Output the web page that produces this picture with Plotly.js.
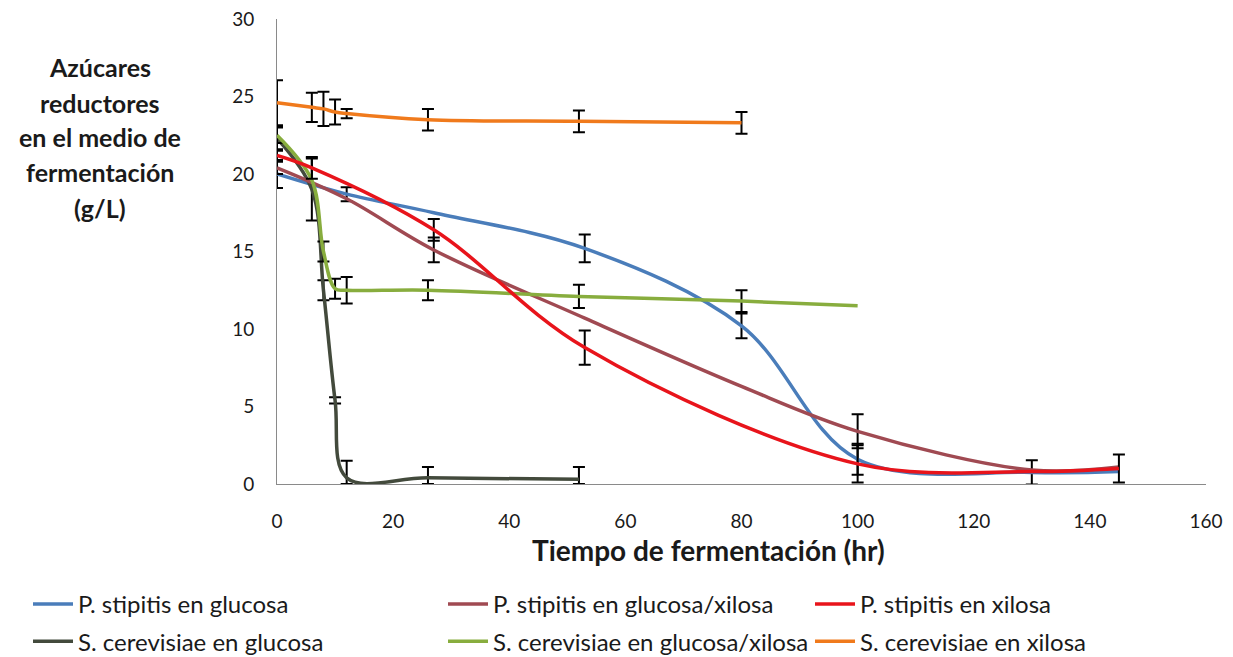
<!DOCTYPE html>
<html>
<head>
<meta charset="utf-8">
<script src="https://cdn.plot.ly/plotly-3.0.1.min.js"></script>
<style>html,body{margin:0;padding:0;background:#fff;}#chart{width:1233px;height:657px;}</style>
</head>
<body>
<div id="chart"></div>
<script>
// ---- Data ----
var seriesNames = [
  "P. stipitis en glucosa",
  "S. cerevisiae en glucosa",
  "P. stipitis en glucosa/xilosa",
  "S. cerevisiae en glucosa/xilosa",
  "P. stipitis en xilosa",
  "S. cerevisiae en xilosa"
];

var psGluX   = [0, 12, 27, 53, 80, 100, 130, 145];
var psGluY   = [20.0, 18.7, 17.5, 15.2, 10.2, 1.6, 0.75, 0.8];
var psGluErr = [0.9, 0.45, NaN, 0.9, 0.8, 1.0, 0.78, NaN];

var scGluX   = [0, 6, 8, 10, 12, 26, 52];
var scGluY   = [22.3, 19.0, 12.5, 5.4, 0.4, 0.4, 0.3];
var scGluErr = [0.8, 2.0, 0.65, 0.2, 1.1, 0.7, 0.8];
var scGluErrMinus = [0.8, 2.0, 0.65, 0.2, 0.4, 0.4, 0.3];

var psMixX   = [0, 12, 27, 53, 80, 100, 130, 145];
var psMixY   = [20.4, 18.4, 15.1, 10.7, 6.3, 3.4, 0.9, 1.1];
var psMixErr = [0.4, NaN, 0.8, NaN, NaN, 1.1, NaN, NaN];

var scMixX   = [0, 6, 8, 10, 12, 26, 52, 80, 100];
var scMixY   = [22.5, 19.6, 15.0, 12.6, 12.5, 12.5, 12.1, 11.8, 11.5];
var scMixErr = [0.5, NaN, 0.65, 0.65, 0.85, 0.65, 0.75, 0.7, NaN];

var psXilX   = [0, 6, 27, 53, 100, 130, 145];
var psXilY   = [21.2, 20.4, 16.4, 8.8, 1.3, 0.8, 1.0];
var psXilErr = [0.4, 0.7, 0.7, 1.1, 1.2, NaN, 0.9];

var scXilX   = [0, 6, 8, 10, 12, 26, 52, 80];
var scXilY   = [24.6, 24.3, 24.2, 24.0, 23.9, 23.5, 23.4, 23.3];
var scXilErr = [1.45, 0.95, 1.1, 0.8, 0.3, 0.7, 0.7, 0.7];

var xTickVals = [0, 20, 40, 60, 80, 100, 120, 140, 160];
var yTickVals = [0, 5, 10, 15, 20, 25, 30];
var yTitleLines = ["Azúcares", "reductores", "en el medio de", "fermentación", "(g/L)"];
var xTitleText = "Tiempo de fermentación (hr)";

// ---- Styling ----
var colors = ["#4A7DBA", "#434A3C", "#A04A52", "#88AD3E", "#E8141B", "#F07A1C"];
var FONT = "Lato, 'Open Sans', sans-serif";

function errObj(arr, minus) {
  var o = {type: "data", array: arr, visible: true, color: "#000", thickness: 2, width: 6};
  if (minus) { o.symmetric = false; o.arrayminus = minus; }
  return o;
}
function mk(i, x, y, err, legendId, minus) {
  return {
    type: "scatter", mode: "lines", name: seriesNames[i], x: x, y: y,
    line: {color: colors[i], width: 3.5, shape: "spline", smoothing: 1},
    error_y: errObj(err, minus), cliponaxis: false,
    legend: legendId, legendgroup: "g" + i
  };
}

var traces = [
  mk(0, psGluX, psGluY, psGluErr, "legend"),
  mk(1, scGluX, scGluY, scGluErr, "legend", scGluErrMinus),
  mk(2, psMixX, psMixY, psMixErr, "legend2"),
  mk(3, scMixX, scMixY, scMixErr, "legend2"),
  mk(4, psXilX, psXilY, psXilErr, "legend3"),
  mk(5, scXilX, scXilY, scXilErr, "legend3")
];

var L = 277, T = 19, W = 1233, H = 657, PW = 929, PH = 465;
function px2x(p) { return (p - L) / PW; }
function py2y(p) { return (T + PH - p) / PH; }

var annotations = [];
var yLinePx = [67, 103, 137, 172, 208];
yTitleLines.forEach(function (t, k) {
  annotations.push({xref: "paper", yref: "paper", x: px2x(100), y: py2y(yLinePx[k]),
    xanchor: "center", yanchor: "middle", showarrow: false, text: "<b>" + t + "</b>",
    font: {family: FONT, size: 25, color: "#1a1a1a"}});
});
annotations.push({xref: "paper", yref: "paper", x: px2x(708), y: py2y(550),
  xanchor: "center", yanchor: "middle", showarrow: false, text: "<b>" + xTitleText + "</b>",
  font: {family: FONT, size: 28, color: "#1a1a1a"}});

function legendAt(xpx, size) {
  return {xref: "container", yref: "container", x: xpx / W, y: 1 - 582 / H,
    xanchor: "left", yanchor: "top", orientation: "v", traceorder: "grouped",
    tracegroupgap: 3, bgcolor: "rgba(0,0,0,0)", itemwidth: 40,
    font: {family: FONT, size: size, color: "#1a1a1a"}};
}

var layout = {
  width: W, height: H,
  margin: {l: L, r: W - L - PW, t: T, b: H - T - PH, pad: 0, autoexpand: false},
  paper_bgcolor: "#fff", plot_bgcolor: "#fff",
  showlegend: true,
  xaxis: {range: [0, 160], tickvals: xTickVals, showgrid: false, zeroline: false,
    showline: true, linecolor: "#8a8a8a", linewidth: 1, ticks: "", ticklabelstandoff: 20,
    tickfont: {family: FONT, size: 19, color: "#1a1a1a"}, fixedrange: true, automargin: false},
  yaxis: {range: [0, 30], tickvals: yTickVals, showgrid: false, zeroline: false,
    showline: true, linecolor: "#8a8a8a", linewidth: 1, ticks: "", ticklabelstandoff: 18,
    tickfont: {family: FONT, size: 19, color: "#1a1a1a"}, fixedrange: true, automargin: false},
  legend: legendAt(28, 24),
  legend2: legendAt(443, 24),
  legend3: legendAt(810, 24),
  annotations: annotations
};

Plotly.newPlot("chart", traces, layout, {displayModeBar: false, staticPlot: true});
</script>
</body>
</html>
